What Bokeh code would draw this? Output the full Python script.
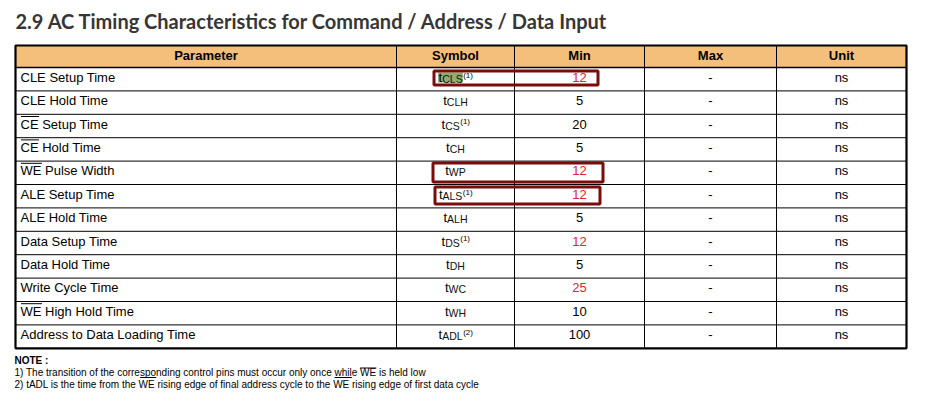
from bokeh.plotting import figure
from bokeh.models import Range1d
from bokeh.core.properties import value
from bokeh.embed import file_html
from bokeh.resources import INLINE

# ---------------- data ----------------
title = "2.9 AC Timing Characteristics for Command / Address / Data Input"
headers = ["Parameter", "Symbol", "Min", "Max", "Unit"]
parameters = ["CLE Setup Time", "CLE Hold Time", "CE Setup Time", "CE Hold Time",
              "WE Pulse Width", "ALE Setup Time", "ALE Hold Time", "Data Setup Time",
              "Data Hold Time", "Write Cycle Time", "WE High Hold Time",
              "Address to Data Loading Time"]
param_overline = ["", "", "CE", "CE", "WE", "", "", "", "", "", "WE", ""]
sym_main = ["t"] * 12
sym_sub = ["CLS", "CLH", "CS", "CH", "WP", "ALS", "ALH", "DS", "DH", "WC", "WH", "ADL"]
sym_note = ["(1)", "", "(1)", "", "", "(1)", "", "(1)", "", "", "", "(2)"]
min_values = ["12", "5", "20", "5", "12", "12", "5", "12", "5", "25", "10", "100"]
min_red = [True, False, False, False, True, True, False, True, False, True, False, False]
max_values = ["-"] * 12
units = ["ns"] * 12
boxed_rows = [0, 4, 5]
highlight_rows = [0]
note_title = "NOTE :"
notes = ["1) The transition of the corresponding control pins must occur only once while WE is held low",
         "2) tADL is the time from the WE rising edge of final address cycle to the WE rising edge of first data cycle"]

# ---------------- font metrics (Arial / Liberation Sans, per 1000 em) ----------------
REG = {' ': 278, '!': 278, '(': 333, ')': 333, '-': 333, '.': 278, '/': 278, ':': 278,
       'A': 667, 'B': 667, 'C': 722, 'D': 722, 'E': 667, 'F': 611, 'G': 778, 'H': 722,
       'I': 278, 'J': 500, 'K': 667, 'L': 556, 'M': 833, 'N': 722, 'O': 778, 'P': 667,
       'Q': 778, 'R': 722, 'S': 667, 'T': 611, 'U': 722, 'V': 667, 'W': 944, 'X': 667,
       'Y': 667, 'Z': 611,
       'a': 556, 'b': 556, 'c': 500, 'd': 556, 'e': 556, 'f': 278, 'g': 556, 'h': 556,
       'i': 222, 'j': 222, 'k': 500, 'l': 222, 'm': 833, 'n': 556, 'o': 556, 'p': 556,
       'q': 556, 'r': 333, 's': 500, 't': 278, 'u': 556, 'v': 500, 'w': 722, 'x': 500,
       'y': 500, 'z': 500}
for d in "0123456789":
    REG[d] = 556


def tw(s, size):
    return sum(REG.get(c, 556) for c in s) / 1000.0 * size


def bl(y, size):
    # place text so that its alphabetic baseline lands on y
    return y - 0.38 * size


# ---------------- layout ----------------
FONT = value("Liberation Sans")
MAIN, SUB, SUP = 13, 10.5, 8
col_edges = [15, 396, 514, 644, 776, 906]
col_centers = [(a + b) / 2 for a, b in zip(col_edges[:-1], col_edges[1:])]
head_top, head_bot = 45, 67
row_h = 23.4
n = len(parameters)
row_tops = [head_bot + i * row_h for i in range(n)]
table_bot = head_bot + n * row_h

p = figure(width=919, height=391, x_range=Range1d(0, 919), y_range=Range1d(391, 0),
           x_axis_type=None, y_axis_type=None, toolbar_location=None,
           output_backend="svg", min_border=0)
p.outline_line_color = None
p.background_fill_color = "white"
p.border_fill_color = "white"

# title
p.text(x=[15], y=[bl(28, 20)], text=[title], text_font=value("Lato"), text_font_size="20px",
       text_font_style="bold", text_color="#363636", text_baseline="alphabetic")

# header fill
p.quad(left=[col_edges[0]], right=[col_edges[-1]], top=[head_top], bottom=[head_bot],
       fill_color="#F4BE7B", line_color=None)

# symbol positions
sx_main, sx_sub, sx_note = [], [], []
for i in range(n):
    wm, ws, wn = tw(sym_main[i], MAIN), tw(sym_sub[i], SUB), tw(sym_note[i], SUP)
    x0 = col_centers[1] - (wm + ws + wn) / 2
    sx_main.append(x0); sx_sub.append(x0 + wm); sx_note.append(x0 + wm + ws + 0.5)

# highlight behind symbol
for r in highlight_rows:
    p.quad(left=[sx_main[r] - 0.5], right=[sx_note[r] - 0.3],
           top=[row_tops[r] + 5.0], bottom=[row_tops[r] + 15.0],
           fill_color="#93ad6e", line_color=None)

# grid lines
hx0, hx1, hy0, hy1 = [], [], [], []
for t in row_tops[1:]:
    hx0.append(col_edges[0]); hx1.append(col_edges[-1]); hy0.append(t); hy1.append(t)
p.segment(x0=hx0, y0=hy0, x1=hx1, y1=hy1, line_color="black", line_width=1)
p.segment(x0=[col_edges[0]], y0=[head_bot], x1=[col_edges[-1]], y1=[head_bot],
          line_color="black", line_width=1.6)
vx = col_edges[1:-1]
p.segment(x0=vx, y0=[head_top] * len(vx), x1=vx, y1=[table_bot] * len(vx),
          line_color="black", line_width=1)
p.quad(left=[col_edges[0]], right=[col_edges[-1]], top=[head_top], bottom=[table_bot],
       fill_color=None, line_color="black", line_width=2.2)

# header texts
p.text(x=col_centers, y=[bl(head_top + 14.5, MAIN)] * 5, text=headers, text_font=FONT,
       text_font_size="13px", text_font_style="bold", text_align="center",
       text_baseline="alphabetic", text_color="black")

# parameter column
base = [t + 14.8 for t in row_tops]
p.text(x=[20] * n, y=[bl(b, MAIN) for b in base], text=parameters, text_font=FONT,
       text_font_size="13px", text_baseline="alphabetic", text_color="black")
ox0, ox1, oy = [], [], []
for i, o in enumerate(param_overline):
    if o:
        ox0.append(20.5); ox1.append(20.5 + tw(o, MAIN)); oy.append(row_tops[i] + 2.2)
p.segment(x0=ox0, y0=oy, x1=ox1, y1=oy, line_color="black", line_width=1)

# symbol column
p.text(x=sx_main, y=[bl(b, MAIN) for b in base], text=sym_main, text_font=FONT,
       text_font_size="13px", text_baseline="alphabetic", text_color="black")
p.text(x=sx_sub, y=[bl(b + 0.4, SUB) for b in base], text=sym_sub, text_font=FONT,
       text_font_size="10.5px", text_baseline="alphabetic", text_color="#111111")
p.text(x=sx_note, y=[bl(t + 10.6, SUP) for t in row_tops], text=sym_note, text_font=FONT,
       text_font_size="8px", text_baseline="alphabetic", text_color="black")

# min / max / unit
p.text(x=[col_centers[2]] * n, y=[bl(b, MAIN) for b in base], text=min_values, text_font=FONT,
       text_font_size="13px", text_align="center", text_baseline="alphabetic",
       text_color=["#e3262e" if r else "black" for r in min_red])
p.text(x=[col_centers[3]] * n, y=[bl(b, MAIN) for b in base], text=max_values, text_font=FONT,
       text_font_size="13px", text_align="center", text_baseline="alphabetic",
       text_color="black")
p.text(x=[col_centers[4]] * n, y=[bl(b, MAIN) for b in base], text=units, text_font=FONT,
       text_font_size="13px", text_align="center", text_baseline="alphabetic",
       text_color="black")

# red boxes
box_lr = {0: (433.5, 597.5, 70.5, 84.5), 4: (432.5, 602.5, 162.5, 181.5),
          5: (434.5, 599.5, 186.5, 203.5)}
for r in boxed_rows:
    l, rr, t, b = box_lr[r]
    p.quad(left=[l], right=[rr], top=[t], bottom=[b], fill_color=None,
           line_color="#7a0c0c", line_width=3)

# notes
p.text(x=[14], y=[bl(363.5, 10)], text=[note_title], text_font=FONT, text_font_size="10px",
       text_font_style="bold", text_baseline="alphabetic", text_color="black")
note_base = [375.5, 387.5]
p.text(x=[14, 14], y=[bl(b, 10) for b in note_base], text=notes, text_font=FONT,
       text_font_size="10px", text_baseline="alphabetic", text_color="black")
# decorations in first note
n1 = notes[0]
i_sp = n1.index("corresponding") + 5
i_wh = n1.index("while")
i_we = n1.index("WE")
ux0 = [14 + tw(n1[:i_sp], 10), 14 + tw(n1[:i_wh], 10)]
ux1 = [14 + tw(n1[:i_sp + 3], 10), 14 + tw(n1[:i_wh + 4], 10)]
p.segment(x0=ux0, y0=[note_base[0] + 1.5] * 2, x1=ux1, y1=[note_base[0] + 1.5] * 2,
          line_color="black", line_width=1)
p.segment(x0=[14 + tw(n1[:i_we], 10)], y0=[note_base[0] - 8], x1=[14 + tw(n1[:i_we + 2], 10)],
          y1=[note_base[0] - 8], line_color="black", line_width=1)

open("out.html", "w").write(file_html(p, INLINE))
